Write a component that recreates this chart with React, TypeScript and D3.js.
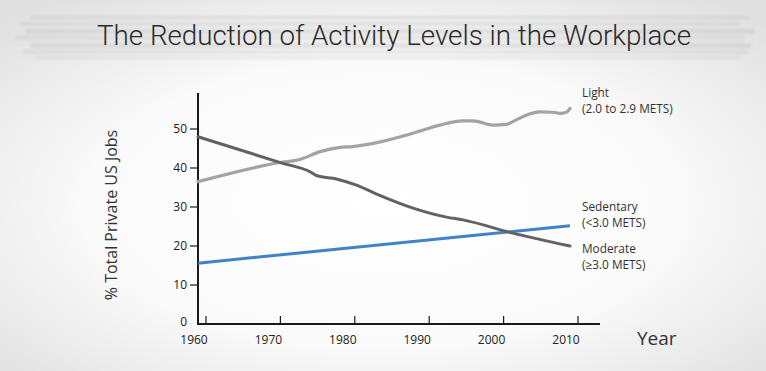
import React from "react";
import * as d3 from "d3";

const lightYears = [1960, 1971.0, 1973.7, 1976.4, 1979.1, 1980.8, 1984.5, 1988.9, 1992.5, 1995.6, 1997.0, 1999.7, 2001.5, 2002.3, 2004.2, 2005.9, 2007.7, 2008.7, 2009.6, 2010];
const lightValues = [36.5, 41.4, 42.2, 44.2, 45.3, 45.5, 46.7, 48.9, 51.0, 52.1, 52.1, 51.0, 51.2, 51.9, 53.6, 54.4, 54.3, 54.0, 54.4, 55.3];

const moderateYears = [1960, 1971.4, 1975.0, 1976.0, 1978.6, 1981.3, 1984.5, 1988.9, 1993.4, 1995.6, 2002.3, 2010];
const moderateValues = [48.0, 41.2, 39.1, 38.0, 37.2, 35.6, 32.9, 29.7, 27.4, 26.7, 23.3, 20.0];

const sedentaryYears = [1960, 2010];
const sedentaryValues = [15.6, 25.2];

const xTicks = [1960, 1970, 1980, 1990, 2000, 2010];
const yTicks = [0, 10, 20, 30, 40, 50];

const W = 766;
const H = 371;

export default function App() {
  const x = d3.scaleLinear().domain([1960, 2010]).range([198, 570]);
  const y = d3.scaleLinear().domain([0, 50]).range([324, 129]);

  const line = d3
    .line<[number, number]>()
    .x((d) => x(d[0]))
    .y((d) => y(d[1]))
    .curve(d3.curveMonotoneX);

  const lightPts = lightYears.map((yr, i) => [yr, lightValues[i]] as [number, number]);
  const modPts = moderateYears.map((yr, i) => [yr, moderateValues[i]] as [number, number]);
  const sedPts = sedentaryYears.map((yr, i) => [yr, sedentaryValues[i]] as [number, number]);

  const font = "'Open Sans', 'Noto Sans', sans-serif";
  const streaks = [
    { y: 16, h: 3, x1: 30, x2: 750, o: 0.35 },
    { y: 22, h: 4, x1: 20, x2: 740, o: 0.3 },
    { y: 29, h: 5, x1: 25, x2: 755, o: 0.35 },
    { y: 36, h: 4, x1: 15, x2: 745, o: 0.3 },
    { y: 43, h: 5, x1: 30, x2: 752, o: 0.35 },
    { y: 50, h: 4, x1: 22, x2: 748, o: 0.3 },
    { y: 56, h: 3, x1: 35, x2: 740, o: 0.25 },
  ];

  return (
    <svg
      width={W}
      height={H}
      style={{ position: "absolute", left: 0, top: 0 }}
      xmlns="http://www.w3.org/2000/svg"
    >
      <defs>
        <radialGradient id="bg" cx="50%" cy="55%" r="70%">
          <stop offset="0%" stopColor="#ffffff" />
          <stop offset="55%" stopColor="#fafafa" />
          <stop offset="100%" stopColor="#e0e0e0" />
        </radialGradient>
        <filter id="blur" x="-5%" y="-100%" width="110%" height="300%">
          <feGaussianBlur stdDeviation="1.6" />
        </filter>
      </defs>
      <rect x={0} y={0} width={W} height={H} fill="url(#bg)" />

      <g filter="url(#blur)">
        {streaks.map((s, i) => (
          <rect key={i} x={s.x1} y={s.y} width={s.x2 - s.x1} height={s.h} fill="#b8b8b8" opacity={s.o} rx={2} />
        ))}
      </g>

      <text
        x={394}
        y={45}
        textAnchor="middle"
        fontFamily="Roboto, 'Liberation Sans', sans-serif"
        fontWeight={300}
        fontSize={27}
        fill="#2a2a2a"
        textLength={594}
        lengthAdjust="spacingAndGlyphs"
      >
        The Reduction of Activity Levels in the Workplace
      </text>

      {/* axes */}
      <line x1={198} y1={93} x2={198} y2={325} stroke="#1a1a1a" strokeWidth={2} />
      <line x1={197} y1={324} x2={600} y2={324} stroke="#1a1a1a" strokeWidth={2} />

      {yTicks.map((t) => (
        <g key={t}>
          {t > 0 && <line x1={190} x2={198} y1={y(t)} y2={y(t)} stroke="#1a1a1a" strokeWidth={1.2} />}
          <text x={187} y={y(t) + (t === 0 ? 2 : 4)} textAnchor="end" fontFamily={font} fontSize={12} fill="#222">
            {t}
          </text>
        </g>
      ))}

      {xTicks.map((t) => (
        <g key={t}>
          <line x1={x(t) + 8} x2={x(t) + 8} y1={324} y2={316} stroke="#1a1a1a" strokeWidth={1.2} />
          <text x={x(t) - 4} y={344} textAnchor="middle" fontFamily={font} fontSize={12} fill="#222">
            {t}
          </text>
        </g>
      ))}

      <text
        transform="translate(117,215) rotate(-90)"
        textAnchor="middle"
        fontFamily={font}
        fontSize={16}
        fill="#333"
      >
        % Total Private US Jobs
      </text>
      <text x={637} y={345} fontFamily={font} fontSize={19} fill="#333">
        Year
      </text>

      {/* series */}
      <path d={line(sedPts) || ""} fill="none" stroke="#3f83c6" strokeWidth={3} />
      <path d={line(lightPts) || ""} fill="none" stroke="#a3a3a3" strokeWidth={3.2} strokeLinecap="round" />
      <path d={line(modPts) || ""} fill="none" stroke="#626262" strokeWidth={3} strokeLinecap="round" />

      {/* labels */}
      <g fontFamily={font} fontSize={11.8} fill="#333">
        <text x={582} y={97}>Light</text>
        <text x={582} y={113}>(2.0 to 2.9 METS)</text>
        <text x={582} y={211}>Sedentary</text>
        <text x={582} y={227}>(&lt;3.0 METS)</text>
        <text x={582} y={253}>Moderate</text>
        <text x={582} y={269}>(≥3.0 METS)</text>
      </g>
    </svg>
  );
}
